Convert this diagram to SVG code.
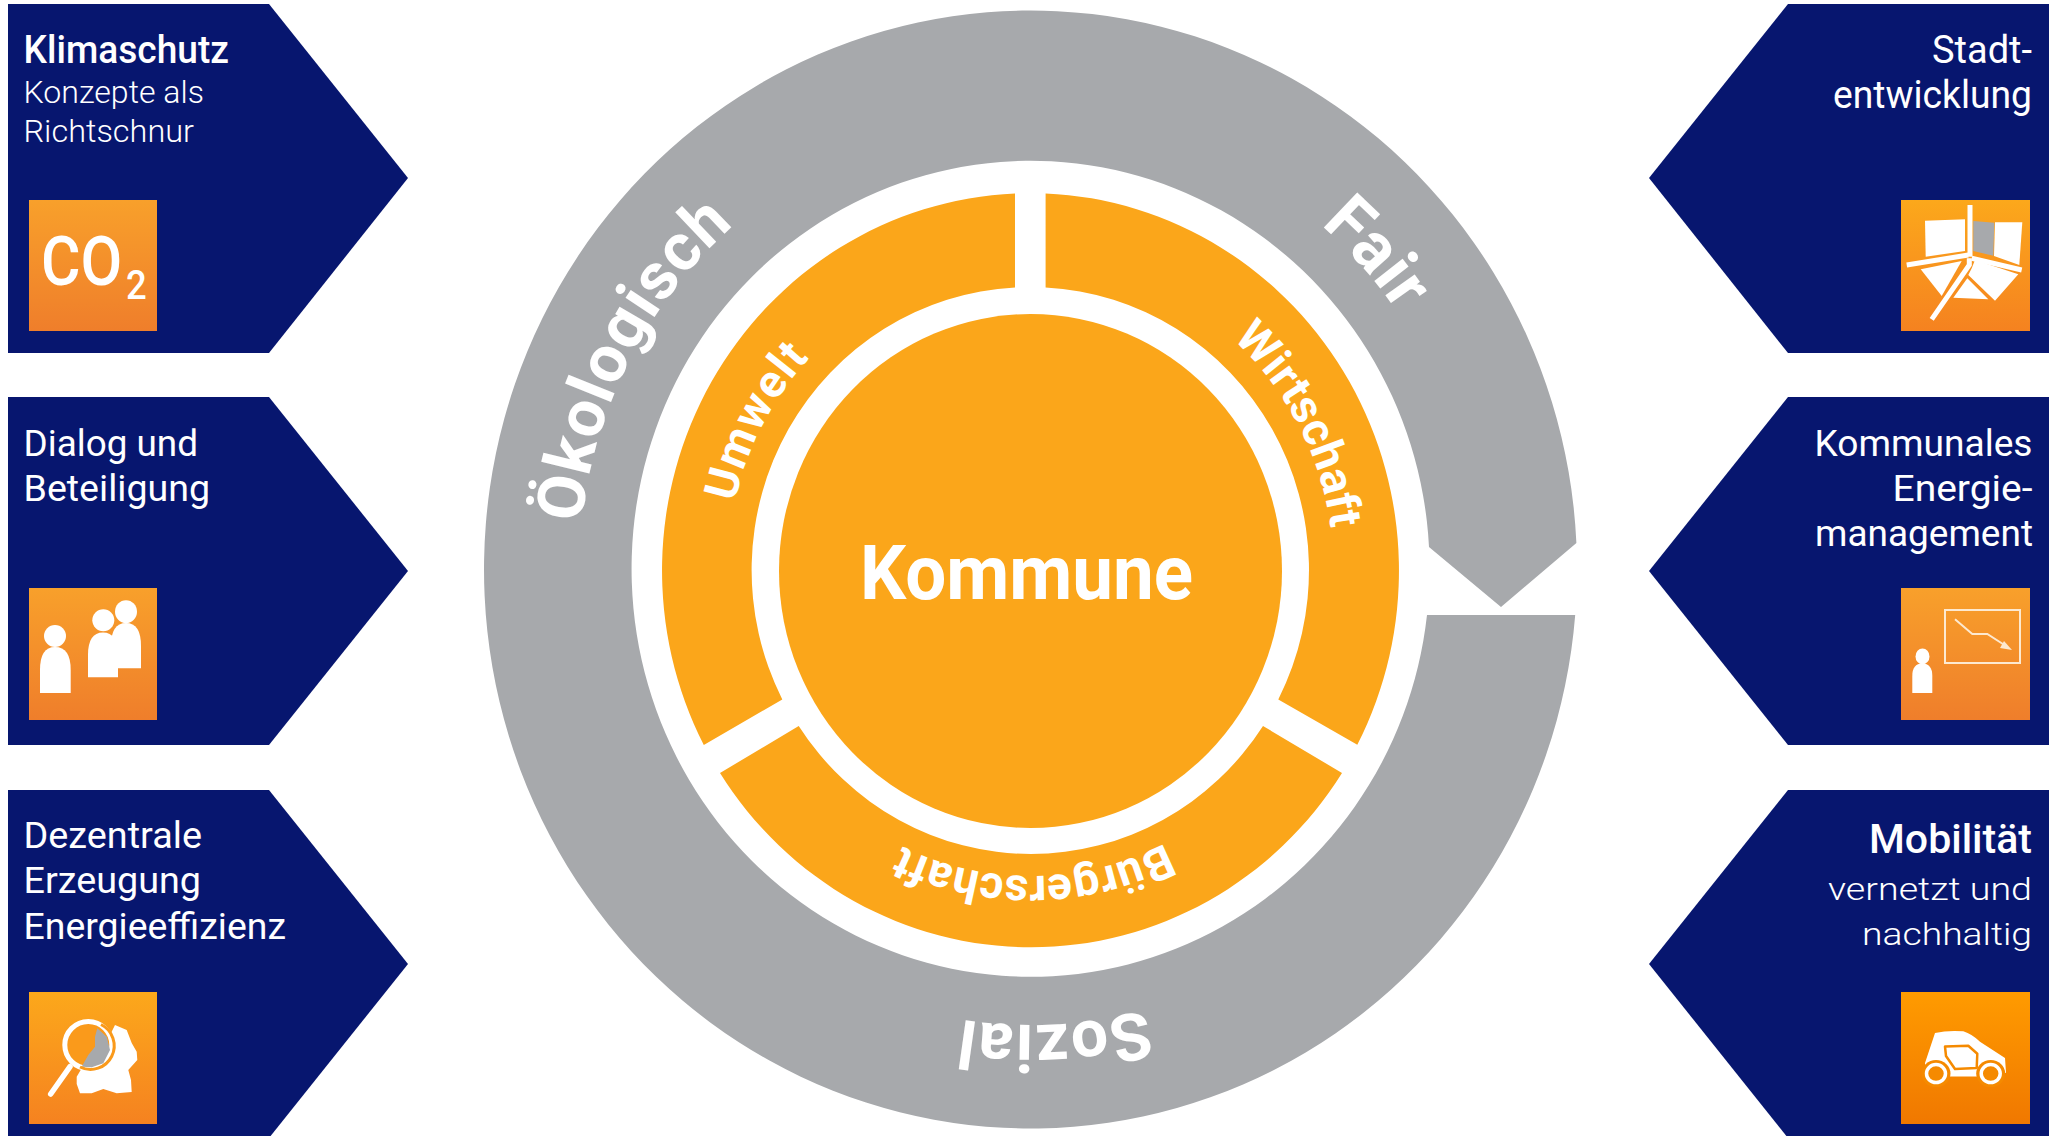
<svg xmlns="http://www.w3.org/2000/svg" width="2056" height="1136" viewBox="0 0 2056 1136">
<style>
.navy{fill:#07166f}
.t{font-family:Roboto,"Liberation Sans",sans-serif;fill:#fff;font-weight:450;font-size:37px}
.h{font-weight:480}
.l{font-weight:300;font-size:32px}
.e{text-anchor:end}
.w{fill:#fff}
.grey{fill:#a7a9ac}
.o{fill:#fba61a}
.c{font-family:Roboto,"Liberation Sans",sans-serif;fill:#fff;font-weight:700}
.big{font-size:66px}
.mid{font-size:46px}
</style>
<defs>
<linearGradient id="g1" x1="0" y1="0" x2="0" y2="1"><stop offset="0" stop-color="#f8a02b"/><stop offset="1" stop-color="#ef7e2b"/></linearGradient>
<linearGradient id="g2" x1="0" y1="0" x2="0" y2="1"><stop offset="0" stop-color="#fca81b"/><stop offset="1" stop-color="#f58220"/></linearGradient>
<linearGradient id="g3" x1="0" y1="0" x2="0" y2="1"><stop offset="0" stop-color="#ff9b00"/><stop offset="1" stop-color="#f07800"/></linearGradient>
<path id="pOek" d="M586.3 649A445 455 0 0 1 843.5 154.4"/>
<path id="pFair" d="M1182.7 142.4A445 455 0 0 1 1462.3 460"/>
<path id="pSoz" d="M1272.9 951.6A445 455 0 0 1 828.5 975.4"/>
<path id="pUmw" d="M727.5 575.4A303 310 0 0 1 874.5 304.3"/>
<path id="pWir" d="M1191 307.1A303 310 0 0 1 1333.3 580.8"/>
<path id="pBue" d="M1180 835A299 306 0 0 1 881 835"/>
</defs>
<rect width="2056" height="1136" fill="#fff"/>

<g id="ring-outer">
<path class="grey" d="M1575.2 615A546.5 559 0 1 1 1576.4 543L1501 607L1429 547A399 408 0 1 0 1427 615Z"/>
<text class="c big" letter-spacing="1"><textPath href="#pOek" startOffset="49.7%" text-anchor="middle">Ökologisch</textPath></text>
<text class="c" font-size="68" letter-spacing="0.5"><textPath href="#pFair" startOffset="50%" text-anchor="middle">Fair</textPath></text>
<text class="c big" letter-spacing="1"><textPath href="#pSoz" startOffset="50%" text-anchor="middle">Sozial</textPath></text>
</g>

<g id="ring-orange">
<path class="o" d="M1015 193.4A369 377.5 0 0 0 703.8 745L782.3 699.4A277.5 283 0 0 1 1015 287.4Z"/>
<path class="o" d="M1045.6 193.4A369 377.5 0 0 1 1357.3 744.8L1278.3 699.4A277.5 283 0 0 0 1045.6 287.4Z"/>
<path class="o" d="M720 773A369 377.5 0 0 0 1342 773L1263 726A277.5 283 0 0 1 798.7 726Z"/>
<text class="c mid" letter-spacing="1.5"><textPath href="#pUmw" startOffset="48.5%" text-anchor="middle">Umwelt</textPath></text>
<text class="c mid" letter-spacing="0.2"><textPath href="#pWir" startOffset="50%" text-anchor="middle">Wirtschaft</textPath></text>
<text class="c mid" letter-spacing="0.3"><textPath href="#pBue" startOffset="49%" text-anchor="middle">Bürgerschaft</textPath></text>
</g>

<g id="kommune">
<ellipse class="o" cx="1030.5" cy="571" rx="251.5" ry="257"/>
<text class="c" x="860" y="599.4" font-size="76" textLength="333" lengthAdjust="spacingAndGlyphs">Kommune</text>
</g>

<g id="klimaschutz">
<path class="navy" d="M8 4H269L408 178L269 353H8Z"/>
<text class="t h" x="23.5" y="63" textLength="205.5" lengthAdjust="spacingAndGlyphs" style="font-size:38px">Klimaschutz</text>
<text class="t l" x="23.5" y="102.7" textLength="180.5" lengthAdjust="spacingAndGlyphs">Konzepte als</text>
<text class="t l" x="23.5" y="141.7" textLength="170.5" lengthAdjust="spacingAndGlyphs">Richtschnur</text>
<rect x="29" y="200" width="128" height="131" fill="url(#g1)"/>
<text class="t" transform="translate(41 285) scale(.89 1)" style="font-size:68px;font-weight:500">CO<tspan x="95.5" dy="14" style="font-size:41px">2</tspan></text>
</g>

<g id="dialog">
<path class="navy" d="M8 397H269L408 571L269 745H8Z"/>
<text class="t" x="23.5" y="455.6" textLength="174.5" lengthAdjust="spacingAndGlyphs">Dialog und</text>
<text class="t" x="23.5" y="500.8" textLength="186.5" lengthAdjust="spacingAndGlyphs">Beteiligung</text>
<rect x="29" y="588" width="128" height="132" fill="url(#g1)"/>
<g class="w">
<ellipse cx="55" cy="636" rx="11" ry="11"/><path d="M40 693V670Q40 647 55 647Q70.7 647 70.7 670V693Z"/>
<ellipse cx="103.3" cy="620.3" rx="11" ry="11"/><path d="M88 677.3V655Q88 632.6 103 632.6Q118 632.6 118 655V677.3Z"/>
<ellipse cx="126" cy="611.7" rx="11" ry="11.5"/><path d="M111 668.3V646Q111 623 126 623Q141 623 141 646V668.3Z"/>
</g>
</g>

<g id="dezentrale">
<path class="navy" d="M8 790H269L408 964L269 1138H8Z"/>
<text class="t" x="23.5" y="848" textLength="178.5" lengthAdjust="spacingAndGlyphs">Dezentrale</text>
<text class="t" x="23.5" y="893.3" textLength="177.5" lengthAdjust="spacingAndGlyphs">Erzeugung</text>
<text class="t" x="23.5" y="938.5" textLength="262.5" lengthAdjust="spacingAndGlyphs">Energieeffizienz</text>
<rect x="29" y="992" width="128" height="132" fill="url(#g2)"/>
<path class="w" d="M115 1025L126.7 1030L131.7 1043L136.7 1051.7L137.3 1060L128.3 1070L131 1080L131.7 1092L116.7 1093.3L103.3 1089L91.7 1093.3L80 1093.3L76.7 1084L76.7 1076.7L81.7 1068.3L95 1068L108 1050L110 1035Z"/>
<circle cx="88.3" cy="1045" r="23.5" fill="#fa9a1b" stroke="#fff" stroke-width="5"/>
<path class="grey" d="M97.3 1028.3L106.7 1036.7L110 1050L103.3 1063.3L91.7 1067.3L81.7 1066.7L88.3 1055L95 1046.7L95 1036.7Z"/>
<path d="M101 1024.5A23.5 23.5 0 0 1 80 1067" fill="none" stroke="#fa9a1b" stroke-width="3"/>
<path d="M70 1066.7L50.7 1094" stroke="#fff" stroke-width="5.5" stroke-linecap="round"/>
</g>

<g id="stadtentwicklung">
<path class="navy" d="M2049 4H1788L1649 178L1788 353H2049Z"/>
<text class="t e" x="2032" y="63.3" style="font-size:38px" textLength="100" lengthAdjust="spacingAndGlyphs">Stadt-</text>
<text class="t e" x="2032" y="108.3" style="font-size:38px" textLength="199" lengthAdjust="spacingAndGlyphs">entwicklung</text>
<rect x="1901" y="200" width="129" height="131" fill="url(#g2)"/>
<g class="w">
<path d="M1925 220.7L1965 219.3V251L1925.7 256.7Z"/>
<path d="M1995 222.3L2022.3 222.3L2019.3 265L1994 256Z"/>
<path d="M1920.7 269.3L1961.7 261L1941.7 296Z"/>
<path d="M1967.3 278.3L1988.3 299.3L1953.3 297.7Z"/>
<path d="M1975 260L2018.3 274.3L1995 300.7L1968.3 275L1971.7 268.3Z"/>
</g>
<path class="grey" d="M1973.3 221L1994.3 222.7L1993.3 255.7L1973.3 251Z"/>
<g fill="none" stroke="#fff" stroke-width="5">
<path d="M1970 205V256.7"/>
<path d="M1906.7 265L1968.3 255"/>
<path d="M1971.7 258.3L2021.7 270"/>
<path d="M1969.3 258.3V265L1931.7 319.3"/>
</g>
</g>

<g id="energiemanagement">
<path class="navy" d="M2049 397H1788L1649 571L1788 745H2049Z"/>
<text class="t e" x="2032.5" y="455.6" textLength="218" lengthAdjust="spacingAndGlyphs">Kommunales</text>
<text class="t e" x="2032.5" y="500.8" textLength="140" lengthAdjust="spacingAndGlyphs">Energie-</text>
<text class="t e" x="2033" y="545.6" textLength="218" lengthAdjust="spacingAndGlyphs">management</text>
<rect x="1901" y="588" width="129" height="132" fill="url(#g1)"/>
<rect x="1945" y="610" width="75" height="53" fill="none" stroke="#fde9d0" stroke-width="2"/>
<path d="M1955 619.3L1972.3 634L1987.3 634L2006 646" fill="none" stroke="#fde9d0" stroke-width="2"/>
<path d="M2012 650L2000 648L2004 641Z" fill="#fde9d0"/>
<ellipse class="w" cx="1922.5" cy="656.4" rx="7" ry="8"/>
<path class="w" d="M1912.3 693V676Q1912.3 663.5 1922.3 663.5Q1932.3 663.5 1932.3 676V693Z"/>
</g>

<g id="mobilitaet">
<path class="navy" d="M2049 790H1788L1649 964L1788 1138H2049Z"/>
<text class="t h e" x="2032" y="853.4" style="font-size:41px" textLength="163" lengthAdjust="spacingAndGlyphs">Mobilität</text>
<text class="t l e" x="2032" y="900" textLength="204" lengthAdjust="spacingAndGlyphs">vernetzt und</text>
<text class="t l e" x="2032" y="944.7" textLength="170" lengthAdjust="spacingAndGlyphs">nachhaltig</text>
<rect x="1901" y="992" width="129" height="132" fill="url(#g3)"/>
<path class="w" d="M1925 1063L1935 1033Q1948 1030 1963.3 1031.3Q1972 1034 1980 1041.8L2005 1058L2006 1072.7L1990 1076.5H1936L1925 1072Z"/>
<path d="M1945 1046.5L1968.3 1045.8L1977.3 1053.7L1976.7 1068L1955 1069L1946 1056Z" fill="#fff" stroke="#f58a00" stroke-width="2.5" stroke-linejoin="round"/>
<ellipse cx="1936" cy="1073.6" rx="14.5" ry="13.5" fill="#f58a00"/>
<ellipse cx="1990.7" cy="1073.6" rx="14.5" ry="13.5" fill="#f58a00"/>
<ellipse cx="1936" cy="1073.6" rx="9.5" ry="9" fill="none" stroke="#fff" stroke-width="3.5"/>
<ellipse cx="1990.7" cy="1073.6" rx="9.5" ry="9" fill="none" stroke="#fff" stroke-width="3.5"/>
</g>
<g id="connectors"/>
</svg>
